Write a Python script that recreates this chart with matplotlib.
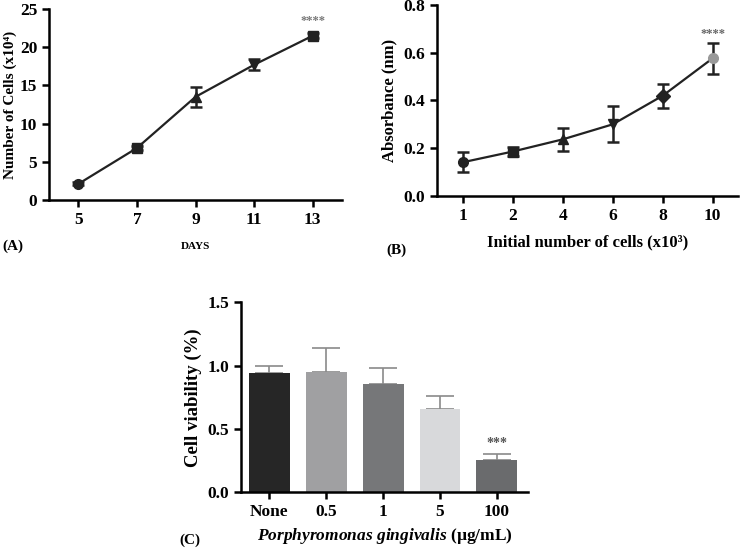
import numpy as np
import matplotlib
matplotlib.use('Agg')
import matplotlib.pyplot as plt

plt.rcParams['font.family'] = ['Liberation Serif', 'DejaVu Serif']
plt.rcParams['font.weight'] = 'bold'
plt.rcParams['mathtext.fontset'] = 'custom'
plt.rcParams['mathtext.it'] = 'Liberation Serif:italic:bold'
plt.rcParams['mathtext.rm'] = 'Liberation Serif:bold'

# panel A data
days = [5, 7, 9, 11, 13]
cells = [2.1, 6.8, 13.5, 17.7, 21.5]
cells_err = [0.2, 0.3, 1.3, 0.7, 0.3]
markers_a = ['o', 's', '^', 'v', 's']

# panel B data
init_labels = ['1', '2', '4', '6', '8', '10']
absorb = [0.141, 0.186, 0.237, 0.300, 0.420, 0.577]
absorb_err = [0.042, 0.020, 0.048, 0.075, 0.050, 0.065]
markers_b = ['o', 's', '^', 'v', 'D', 'o']

# panel C data
conc_labels = ['None', '0.5', '1', '5', '100']
viab = [0.944, 0.952, 0.857, 0.660, 0.255]
viab_err = [0.055, 0.19, 0.122, 0.098, 0.047]
bar_colors = ['#262626', '#a0a0a2', '#767779', '#d8d9db', '#6a6b6d']

fig = plt.figure(figsize=(7.4, 5.52), dpi=100)

def style(ax):
    for s in ['top', 'right']:
        ax.spines[s].set_visible(False)
    for s in ['left', 'bottom']:
        ax.spines[s].set_linewidth(1.8)
    ax.tick_params(width=1.8, length=5, labelsize=12.5)
    for lab in ax.get_xticklabels() + ax.get_yticklabels():
        lab.set_fontweight('bold')

# (A)
axA = fig.add_axes([0.0662, 0.6377, 0.396, 0.346])
axA.plot(days, cells, color='#222222', lw=1.6)
for x, y, e, m in zip(days, cells, cells_err, markers_a):
    axA.errorbar(x, y, yerr=e, fmt=m, color='#222222', ms=7, capsize=4,
                 elinewidth=1.8, capthick=1.8)
axA.set_xlim(4, 14)
axA.set_ylim(0, 25)
axA.set_xticks(days)
axA.set_yticks([0, 5, 10, 15, 20, 25])
axA.set_ylabel('Number of Cells (x10\u2074)', fontsize=11, fontweight='bold', labelpad=2)
axA.set_xlabel('DAYS', fontsize=8, fontweight='bold', labelpad=10)
axA.text(13, 22.6, '****', ha='center', va='bottom', color='#777777', fontsize=9)
style(axA)
fig.text(0.003, 0.548, '(A)', fontsize=11, fontweight='bold')

# (B)
axB = fig.add_axes([0.590, 0.645, 0.407, 0.346])
xb = np.arange(len(init_labels))
axB.plot(xb, absorb, color='#222222', lw=1.6)
for x, y, e, m in zip(xb, absorb, absorb_err, markers_b):
    c = '#999999' if x == xb[-1] else '#222222'
    axB.errorbar(x, y, yerr=e, fmt=m, color='#222222', mfc=c, mec=c, ms=7,
                 capsize=4, elinewidth=1.8, capthick=1.8)
axB.set_xlim(-0.52, 5.5)
axB.set_ylim(0, 0.8)
axB.set_xticks(xb, init_labels)
axB.set_yticks([0.0, 0.2, 0.4, 0.6, 0.8])
axB.set_yticklabels(['0.0', '0.2', '0.4', '0.6', '0.8'])
axB.set_ylabel('Absorbance (nm)', fontsize=12, fontweight='bold')
axB.set_xlabel('Initial number of cells (x10\u00b3)', fontsize=12, fontweight='bold', labelpad=8)
axB.text(xb[-1], 0.655, '****', ha='center', va='bottom', color='#666666', fontsize=9)
style(axB)
fig.text(0.522, 0.54, '(B)', fontsize=11, fontweight='bold')

# (C)
axC = fig.add_axes([0.3257, 0.1082, 0.388, 0.344])
xc = np.arange(len(conc_labels))
axC.bar(xc, viab, width=0.72, color=bar_colors, zorder=2)
axC.errorbar(xc, viab, yerr=[np.zeros(len(viab)), viab_err], fmt='none',
             ecolor='#8a8a8a', elinewidth=1.2, capsize=10, capthick=1.2, zorder=1)
axC.set_xlim(-0.5, 4.55)
axC.set_ylim(0, 1.5)
axC.set_xticks(xc, conc_labels)
axC.set_yticks([0.0, 0.5, 1.0, 1.5])
axC.set_yticklabels(['0.0', '0.5', '1.0', '1.5'])
axC.set_ylabel('Cell viability (%)', fontsize=13.5, fontweight='bold')
axC.set_xlabel('$\\mathit{Porphyromonas\\ gingivalis}$ (\u00b5g/mL)', fontsize=12.5,
               fontweight='bold', labelpad=4)
axC.text(xc[-1], viab[-1] + viab_err[-1] + 0.03, '***', ha='center', va='bottom',
         color='#555555', fontsize=10)
style(axC)
fig.text(0.243, 0.015, '(C)', fontsize=11, fontweight='bold')

fig.savefig('out.png', dpi=100)
